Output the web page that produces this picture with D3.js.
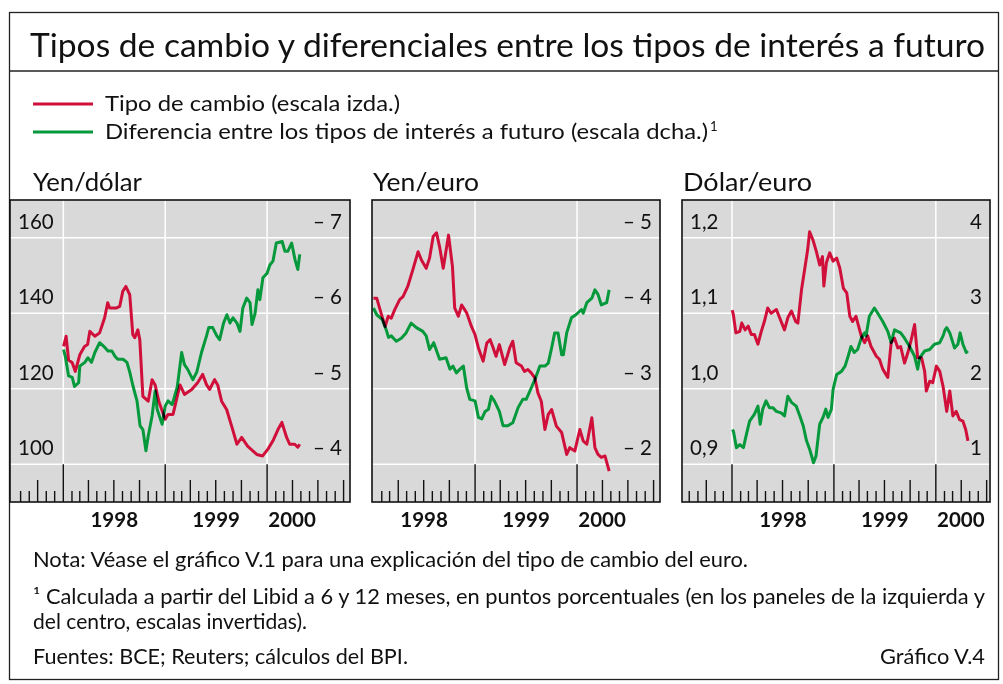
<!DOCTYPE html>
<html><head><meta charset="utf-8">
<script src="https://cdn.jsdelivr.net/npm/d3@7"></script>
<style>
body{margin:0;background:#fff}
svg{display:block}
text{font-family:Lato,"Open Sans",sans-serif;fill:#111}
</style>
</head><body>
<svg id="c" width="1003" height="684"></svg>
<script>
// ---------- DATA ----------
const panelTitles = ["Yen/dólar", "Yen/euro", "Dólar/euro"];
const yearLabels = ["1998", "1999", "2000"];
const leftTicksYen = [100, 120, 140, 160];
const leftTicksDollarEuro = [0.9, 1.0, 1.1, 1.2];
const rightTicksYenDollar = [-4, -5, -6, -7];
const rightTicksYenEuro = [-2, -3, -4, -5];
const rightTicksDollarEuro = [1, 2, 3, 4];

const yenDollarRate = [
["1998-01-02",131.2],["1998-01-11",133.9],["1998-01-20",127.6],["1998-02-02",126.9],["1998-02-13",124.6],
["1998-03-01",129.0],["1998-03-18",131.2],["1998-03-29",131.7],["1998-04-06",135.2],["1998-04-24",133.9],
["1998-05-11",134.8],["1998-05-29",138.8],["1998-06-09",142.8],["1998-06-16",141.4],["1998-07-11",141.4],
["1998-07-22",141.8],["1998-08-02",145.8],["1998-08-13",147.1],["1998-08-27",144.9],["1998-09-07",134.3],
["1998-09-14",133.5],["1998-09-25",135.6],["1998-10-02",133.0],["1998-10-13",118.0],["1998-11-01",116.7],
["1998-11-15",122.4],["1998-11-26",121.0],["1998-12-10",116.4],["1999-01-01",111.9],["1999-01-11",113.2],
["1999-01-29",113.2],["1999-02-23",121.0],["1999-03-11",118.5],["1999-04-06",119.8],["1999-04-27",121.6],
["1999-05-15",123.8],["1999-05-29",121.1],["1999-06-09",119.8],["1999-06-27",122.4],["1999-07-08",121.0],
["1999-07-22",116.7],["1999-08-09",114.5],["1999-08-27",110.1],["1999-09-15",105.3],["1999-10-02",107.1],
["1999-10-23",104.8],["1999-11-25",102.6],["1999-12-16",102.2],["2000-01-04",104.0],["2000-01-22",106.2],
["2000-02-09",109.2],["2000-02-23",111.1],["2000-03-11",107.1],["2000-03-22",105.3],["2000-04-09",105.3],
["2000-04-20",104.5],["2000-04-27",105.3]
];
const yenDollarDiff = [
["1998-01-02",-5.52],["1998-01-08",-5.43],["1998-01-20",-5.17],["1998-02-02",-5.15],["1998-02-10",-5.03],
["1998-02-25",-5.08],["1998-03-01",-5.30],["1998-03-19",-5.35],["1998-03-30",-5.41],["1998-04-12",-5.35],
["1998-04-24",-5.48],["1998-05-11",-5.61],["1998-05-29",-5.55],["1998-06-10",-5.50],["1998-06-24",-5.50],
["1998-07-05",-5.43],["1998-07-15",-5.39],["1998-08-03",-5.39],["1998-08-17",-5.35],["1998-08-27",-5.22],
["1998-09-08",-5.03],["1998-09-22",-4.84],["1998-10-03",-4.51],["1998-10-13",-4.46],["1998-10-24",-4.18],
["1998-11-01",-4.37],["1998-11-15",-4.64],["1998-11-26",-4.97],["1998-12-03",-4.73],["1998-12-21",-4.53],
["1999-01-01",-4.77],["1999-01-11",-4.84],["1999-01-26",-4.79],["1999-02-13",-5.02],["1999-03-01",-5.48],
["1999-03-11",-5.32],["1999-03-22",-5.26],["1999-04-10",-5.12],["1999-04-24",-5.22],["1999-05-11",-5.48],
["1999-05-29",-5.70],["1999-06-06",-5.81],["1999-06-20",-5.81],["1999-07-05",-5.70],["1999-07-15",-5.65],
["1999-07-29",-5.87],["1999-08-10",-5.98],["1999-08-21",-5.87],["1999-09-01",-5.94],["1999-09-15",-5.87],
["1999-09-26",-5.76],["1999-10-06",-6.07],["1999-10-20",-6.20],["1999-11-01",-6.14],["1999-11-08",-5.85],
["1999-11-19",-6.00],["1999-11-29",-6.31],["1999-12-06",-6.18],["1999-12-17",-6.47],["2000-01-01",-6.53],
["2000-01-11",-6.64],["2000-01-22",-6.69],["2000-02-03",-6.93],["2000-02-24",-6.95],["2000-03-05",-6.82],
["2000-03-15",-6.82],["2000-03-29",-6.93],["2000-04-10",-6.71],["2000-04-20",-6.58],["2000-04-27",-6.78]
];
const yenEuroRate = [
["1998-01-02",144.0],["1998-01-14",144.0],["1998-01-26",140.9],["1998-02-13",136.5],["1998-02-24",139.2],
["1998-03-07",138.7],["1998-03-19",140.9],["1998-04-06",143.6],["1998-04-18",144.4],["1998-05-05",147.1],
["1998-05-23",151.5],["1998-06-11",156.3],["1998-06-23",154.1],["1998-07-10",151.9],["1998-07-22",154.6],
["1998-08-04",160.3],["1998-08-16",161.3],["1998-08-27",157.6],["1998-09-09",151.9],["1998-09-28",160.7],
["1998-10-12",152.4],["1998-10-20",141.4],["1998-11-02",139.2],["1998-11-14",142.2],["1998-12-02",140.1],
["1998-12-19",136.5],["1999-01-01",134.3],["1999-01-13",130.8],["1999-01-30",127.3],["1999-02-12",132.1],
["1999-02-24",133.0],["1999-03-05",131.2],["1999-03-17",128.6],["1999-03-29",131.7],["1999-04-17",126.4],
["1999-05-05",130.8],["1999-05-16",132.6],["1999-05-28",126.9],["1999-06-16",126.0],["1999-06-27",124.6],
["1999-07-09",125.1],["1999-07-21",124.2],["1999-08-03",122.9],["1999-08-14",118.9],["1999-08-26",116.7],
["1999-09-08",109.2],["1999-09-20",113.2],["1999-10-02",114.5],["1999-10-19",110.1],["1999-11-07",108.4],
["1999-11-25",102.6],["1999-12-06",104.4],["1999-12-24",103.5],["2000-01-11",109.2],["2000-01-23",106.2],
["2000-02-05",105.3],["2000-02-23",112.3],["2000-03-05",104.4],["2000-03-16",102.6],["2000-03-28",101.8],
["2000-04-10",102.2],["2000-04-25",98.2]
];
const yenEuroDiff = [
["1998-01-02",-4.07],["1998-01-14",-3.98],["1998-02-02",-3.92],["1998-02-17",-3.78],["1998-02-25",-3.68],
["1998-03-07",-3.70],["1998-03-25",-3.63],["1998-04-12",-3.67],["1998-04-29",-3.74],["1998-05-17",-3.87],
["1998-06-05",-3.81],["1998-06-28",-3.76],["1998-07-10",-3.70],["1998-07-22",-3.52],["1998-08-06",-3.61],
["1998-08-27",-3.39],["1998-09-19",-3.41],["1998-10-03",-3.26],["1998-10-14",-3.30],["1998-10-26",-3.21],
["1998-11-08",-3.26],["1998-11-20",-3.30],["1998-12-02",-3.01],["1998-12-13",-2.86],["1999-01-01",-2.84],
["1999-01-13",-2.62],["1999-01-25",-2.60],["1999-02-06",-2.70],["1999-02-18",-2.73],["1999-02-28",-2.90],
["1999-03-11",-2.84],["1999-03-29",-2.70],["1999-04-11",-2.51],["1999-04-28",-2.51],["1999-05-16",-2.55],
["1999-06-04",-2.75],["1999-06-21",-2.86],["1999-07-03",-2.86],["1999-07-21",-3.01],["1999-08-03",-3.12],
["1999-08-21",-3.30],["1999-09-08",-3.30],["1999-09-20",-3.34],["1999-10-02",-3.54],["1999-10-13",-3.74],
["1999-10-25",-3.74],["1999-11-07",-3.45],["1999-11-13",-3.45],["1999-11-25",-3.74],["1999-12-12",-3.94],
["1999-12-28",-3.98],["2000-01-17",-4.05],["2000-01-23",-4.00],["2000-02-05",-4.14],["2000-02-23",-4.20],
["2000-03-05",-4.31],["2000-03-16",-4.25],["2000-03-28",-4.11],["2000-04-16",-4.14],["2000-04-25",-4.31]
];
const dollarEuroRate = [
["1998-01-02",1.104],["1998-01-06",1.098],["1998-01-15",1.074],["1998-01-29",1.076],["1998-02-05",1.087],
["1998-02-17",1.078],["1998-02-28",1.083],["1998-03-11",1.072],["1998-03-22",1.072],["1998-04-04",1.059],
["1998-04-16",1.076],["1998-04-27",1.089],["1998-05-09",1.107],["1998-05-21",1.100],["1998-06-09",1.105],
["1998-06-26",1.089],["1998-07-08",1.078],["1998-07-20",1.094],["1998-08-02",1.103],["1998-08-17",1.089],
["1998-08-25",1.087],["1998-09-07",1.131],["1998-09-19",1.160],["1998-09-29",1.184],["1998-10-06",1.208],
["1998-10-18",1.197],["1998-10-30",1.182],["1998-11-11",1.164],["1998-11-21",1.175],["1998-11-26",1.136],
["1998-12-05",1.167],["1998-12-17",1.180],["1998-12-29",1.169],["1999-01-11",1.173],["1999-01-22",1.160],
["1999-02-04",1.133],["1999-02-16",1.127],["1999-02-27",1.096],["1999-03-09",1.089],["1999-03-21",1.096],
["1999-04-03",1.078],["1999-04-09",1.070],["1999-04-21",1.061],["1999-05-02",1.070],["1999-05-14",1.056],
["1999-06-02",1.043],["1999-06-13",1.039],["1999-06-25",1.026],["1999-07-13",1.015],["1999-07-25",1.061],
["1999-08-06",1.067],["1999-08-18",1.054],["1999-08-28",1.056],["1999-09-11",1.034],["1999-09-23",1.048],
["1999-10-05",1.065],["1999-10-17",1.085],["1999-10-28",1.041],["1999-11-11",1.041],["1999-11-22",1.023],
["1999-11-28",0.997],["1999-12-10",1.010],["1999-12-21",1.008],["2000-01-03",1.030],["2000-01-15",1.023],
["2000-01-27",1.003],["2000-02-09",0.970],["2000-02-20",0.997],["2000-03-02",0.964],["2000-03-14",0.970],
["2000-03-26",0.959],["2000-04-07",0.957],["2000-04-17",0.946],["2000-04-25",0.931]
];
const dollarEuroDiff = [
["1998-01-02",1.46],["1998-01-06",1.44],["1998-01-17",1.22],["1998-01-29",1.26],["1998-02-11",1.22],
["1998-02-20",1.37],["1998-03-05",1.57],["1998-03-22",1.66],["1998-04-04",1.77],["1998-04-12",1.53],
["1998-04-21",1.73],["1998-05-03",1.84],["1998-05-15",1.75],["1998-05-27",1.75],["1998-06-09",1.70],
["1998-06-26",1.68],["1998-07-08",1.64],["1998-07-20",1.90],["1998-08-02",1.82],["1998-08-19",1.77],
["1998-09-01",1.64],["1998-09-13",1.51],["1998-09-25",1.31],["1998-10-06",1.20],["1998-10-20",1.02],
["1998-10-29",1.11],["1998-11-11",1.53],["1998-11-23",1.62],["1998-12-03",1.73],["1998-12-11",1.62],
["1998-12-23",1.73],["1998-12-29",1.99],["1999-01-11",2.19],["1999-01-28",2.23],["1999-02-10",2.30],
["1999-02-21",2.43],["1999-03-03",2.56],["1999-03-15",2.48],["1999-03-27",2.52],["1999-04-09",2.67],
["1999-04-21",2.74],["1999-04-26",2.70],["1999-05-08",2.96],["1999-05-26",3.07],["1999-06-07",3.00],
["1999-06-25",2.89],["1999-07-13",2.76],["1999-07-25",2.61],["1999-08-06",2.78],["1999-08-28",2.74],
["1999-09-11",2.67],["1999-09-29",2.56],["1999-10-17",2.43],["1999-10-28",2.26],["1999-11-04",2.41],
["1999-11-22",2.50],["1999-12-10",2.52],["1999-12-27",2.59],["2000-01-15",2.61],["2000-01-27",2.70],
["2000-02-03",2.78],["2000-02-09",2.81],["2000-02-20",2.74],["2000-03-08",2.54],["2000-03-20",2.59],
["2000-03-28",2.74],["2000-04-07",2.59],["2000-04-19",2.48],["2000-04-25",2.50]
];

// ---------- LAYOUT ----------
const RED = "#d0103a", GREEN = "#05993c", BG = "#d9d9d9";
const TOP = 200, BOT = 502;
const parse = d3.timeParse("%Y-%m-%d");
const dash = v => "\u2013 " + Math.abs(v);
const comma = v => d3.format(".1f")(v).replace(".", ",");

const panels = [
  {title: panelTitles[0], x0: 10, x1: 350, d0: "1997-06-24", d1: "2000-10-24",
   lDom: [90, 170], lTicks: leftTicksYen, lFmt: d => d, showLeft: true,
   rDom: [-3.5, -7.5], rTicks: rightTicksYenDollar, rFmt: dash,
   rate: yenDollarRate, diff: yenDollarDiff, tx: 33, tw: 109},
  {title: panelTitles[1], x0: 372, x1: 660, d0: "1997-12-28", d1: "2000-10-24",
   lDom: [90, 170], lTicks: leftTicksYen, lFmt: d => d, showLeft: false,
   rDom: [-1.5, -5.5], rTicks: rightTicksYenEuro, rFmt: dash,
   rate: yenEuroRate, diff: yenEuroDiff, tx: 373, tw: 106},
  {title: panelTitles[2], x0: 682, x1: 990, d0: "1997-07-06", d1: "2000-07-13",
   lDom: [0.85, 1.25], lTicks: leftTicksDollarEuro, lFmt: comma, showLeft: true,
   rDom: [0.5, 4.5], rTicks: rightTicksDollarEuro, rFmt: d => d,
   rate: dollarEuroRate, diff: dollarEuroDiff, tx: 683, tw: 129}
];

const svg = d3.select("#c");
const fit = (sel, w) => sel.attr("textLength", w).attr("lengthAdjust", "spacingAndGlyphs");

// outer frame and title
svg.append("rect").attr("x", 9.5).attr("y", 12.5).attr("width", 989).attr("height", 667)
  .attr("fill", "none").attr("stroke", "#222").attr("stroke-width", 1.3);
svg.append("line").attr("x1", 9.5).attr("x2", 998.5).attr("y1", 71).attr("y2", 71)
  .attr("stroke", "#222").attr("stroke-width", 1.3);
fit(svg.append("text").attr("x", 30).attr("y", 57).attr("font-size", 33)
  .text("Tipos de cambio y diferenciales entre los tipos de interés a futuro"), 955);

// legend
const legend = [
  {c: RED, t: "Tipo de cambio (escala izda.)", y: 104, w: 295},
  {c: GREEN, t: "Diferencia entre los tipos de interés a futuro (escala dcha.)", y: 132, w: 603}
];
legend.forEach(l => {
  svg.append("line").attr("x1", 33).attr("x2", 93).attr("y1", l.y).attr("y2", l.y)
    .attr("stroke", l.c).attr("stroke-width", 3);
  fit(svg.append("text").attr("x", 105).attr("y", l.y + 7).attr("font-size", 21).text(l.t), l.w);
});
svg.append("text").attr("x", 710).attr("y", 131).attr("font-size", 13).text("1");

// panels
panels.forEach((p, i) => {
  const x = d3.scaleTime().domain([parse(p.d0), parse(p.d1)]).range([p.x0, p.x1]);
  const yL = d3.scaleLinear().domain(p.lDom).range([BOT, TOP]);
  const yR = d3.scaleLinear().domain(p.rDom).range([BOT, TOP]);
  const g = svg.append("g");
  const w = p.x1 - p.x0;

  fit(g.append("text").attr("x", p.tx).attr("y", 191).attr("font-size", 25).text(p.title), p.tw);

  g.append("rect").attr("x", p.x0).attr("y", TOP).attr("width", w).attr("height", BOT - TOP).attr("fill", BG);

  const gridBottom = yL(d3.min(p.lTicks));
  g.selectAll(".hg").data(p.lTicks).join("line")
    .attr("x1", p.x0).attr("x2", p.x1).attr("y1", d => yL(d)).attr("y2", d => yL(d))
    .attr("stroke", "#fff").attr("stroke-width", 1.5);
  const years = d3.timeYear.range(x.domain()[0], x.domain()[1]).filter(d => x(d) > p.x0 + 3);
  g.selectAll(".vg").data(years).join("line")
    .attr("x1", d => x(d)).attr("x2", d => x(d)).attr("y1", TOP).attr("y2", gridBottom)
    .attr("stroke", "#fff").attr("stroke-width", 1.5);

  const months = d3.timeMonth.range(x.domain()[0], x.domain()[1])
    .filter(d => x(d) > p.x0 + 4 && x(d) < p.x1 - 3);
  g.selectAll(".mt").data(months).join("line")
    .attr("x1", d => x(d)).attr("x2", d => x(d))
    .attr("y1", d => d.getMonth() === 0 ? gridBottom : (d.getMonth() % 3 === 0 ? BOT - 22 : BOT - 11))
    .attr("y2", BOT)
    .attr("stroke", "#111").attr("stroke-width", 1.4);

  const clipId = "clip" + i;
  svg.append("clipPath").attr("id", clipId).append("rect")
    .attr("x", p.x0).attr("y", TOP).attr("width", w).attr("height", BOT - TOP);
  const lg = g.append("g").attr("clip-path", `url(#${clipId})`).style("isolation", "isolate");
  const lineL = d3.line().x(d => x(parse(d[0]))).y(d => yL(d[1]));
  const lineR = d3.line().x(d => x(parse(d[0]))).y(d => yR(d[1]));
  lg.append("path").attr("d", lineR(p.diff)).attr("fill", "none").attr("stroke", GREEN)
    .attr("stroke-width", 3).attr("stroke-linejoin", "round").style("mix-blend-mode", "multiply");
  lg.append("path").attr("d", lineL(p.rate)).attr("fill", "none").attr("stroke", RED)
    .attr("stroke-width", 3).attr("stroke-linejoin", "round").style("mix-blend-mode", "multiply");

  g.append("rect").attr("x", p.x0).attr("y", TOP).attr("width", w).attr("height", BOT - TOP)
    .attr("fill", "none").attr("stroke", "#111").attr("stroke-width", 1.6);

  if (p.showLeft) {
    g.selectAll(".ll").data(p.lTicks).join("text")
      .attr("x", p.x0 + 8).attr("y", d => yL(d) - 9).attr("font-size", 20.5).text(p.lFmt);
  }
  g.selectAll(".rl").data(p.rTicks).join("text")
    .attr("x", p.x1 - 8).attr("y", (d, k) => yL(p.lTicks[k]) - 9).attr("font-size", 20.5)
    .attr("text-anchor", "end").text(p.rFmt);

  yearLabels.forEach((yl, k) => {
    const y0 = parse(yl + "-01-01");
    const cx = k < yearLabels.length - 1 ? (x(y0) + x(parse((+yl + 1) + "-01-01"))) / 2 : x(y0) + 25;
    g.append("text").attr("x", cx).attr("y", 527).attr("font-size", 20.5).attr("font-weight", "bold")
      .attr("text-anchor", "middle").text(yl);
  });
});

// footnotes
const notes = [
  {t: "Nota: Véase el gráfico V.1 para una explicación del tipo de cambio del euro.", y: 567, w: 715},
  {t: "¹ Calculada a partir del Libid a 6 y 12 meses, en puntos porcentuales (en los paneles de la izquierda y", y: 604, w: 952},
  {t: "del centro, escalas invertidas).", y: 629, w: 274},
  {t: "Fuentes: BCE; Reuters; cálculos del BPI.", y: 664, w: 375}
];
notes.forEach(n => {
  fit(svg.append("text").attr("x", 33).attr("y", n.y).attr("font-size", 20.5).text(n.t), n.w);
});
fit(svg.append("text").attr("x", 880).attr("y", 664).attr("font-size", 20.5).text("Gráfico V.4"), 105);
</script>
</body></html>
